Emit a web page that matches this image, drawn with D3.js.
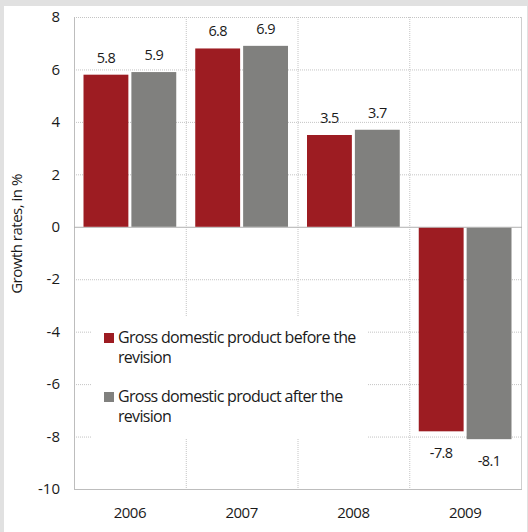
<!DOCTYPE html>
<html>
<head>
<meta charset="utf-8">
<script src="https://cdn.jsdelivr.net/npm/d3@7"></script>
<style>
  body { margin: 0; background: #e1e1e1; }
  text { font-family: "Open Sans", "Lato", sans-serif; fill: #1a1a1a; }
</style>
</head>
<body>
<div id="chart"></div>
<script>
var years = ["2006", "2007", "2008", "2009"];
var seriesNames = ["Gross domestic product before the revision", "Gross domestic product after the revision"];
var before = [5.8, 6.8, 3.5, -7.8];
var after = [5.9, 6.9, 3.7, -8.1];
var yTicks = [8, 6, 4, 2, 0, -2, -4, -6, -8, -10];
var colors = ["#9d1c22", "#80807e"];

var W = 528, H = 532;
var plot = { left: 74, right: 521, top: 17, bottom: 489 };

var svg = d3.select("#chart").append("svg")
    .attr("width", W)
    .attr("height", H);

svg.append("rect").attr("width", W).attr("height", H).attr("fill", "#e1e1e1");
svg.append("rect").attr("x", 4).attr("y", 6).attr("width", 523).attr("height", H - 6).attr("fill", "#fff");

var y = d3.scaleLinear().domain([-10, 8]).range([plot.bottom, plot.top]);
var x0 = d3.scaleBand().domain(years).range([plot.left, plot.right]);
var x1 = d3.scaleBand().domain([0, 1])
    .range([9.5, x0.bandwidth() - 9.5])
    .paddingInner(0.063);

// horizontal gridlines
svg.append("g").selectAll("line")
    .data(yTicks.filter(function (d) { return d !== 0 && d !== -10; }))
  .enter().append("line")
    .attr("x1", plot.left).attr("x2", plot.right)
    .attr("y1", function (d) { return y(d) + 0.5; })
    .attr("y2", function (d) { return y(d) + 0.5; })
    .attr("stroke", "#c4c4c4")
    .attr("stroke-dasharray", "1,1");

// vertical separators
svg.append("g").selectAll("line")
    .data(years.slice(1))
  .enter().append("line")
    .attr("x1", function (d) { return x0(d) + 0.5; })
    .attr("x2", function (d) { return x0(d) + 0.5; })
    .attr("y1", plot.top).attr("y2", plot.bottom)
    .attr("stroke", "#c4c4c4")
    .attr("stroke-dasharray", "1,1");

// legend box covers the grid
svg.append("rect")
    .attr("x", 92).attr("y", 317).attr("width", 276).attr("height", 121)
    .attr("fill", "#fff");

// frame
svg.append("line").attr("x1", plot.left + 0.5).attr("x2", plot.left + 0.5)
    .attr("y1", plot.top).attr("y2", plot.bottom).attr("stroke", "#bdbdbd");
svg.append("line").attr("x1", plot.right + 0.5).attr("x2", plot.right + 0.5)
    .attr("y1", plot.top).attr("y2", plot.bottom).attr("stroke", "#cfcfcf");
svg.append("line").attr("x1", plot.left).attr("x2", plot.right + 1)
    .attr("y1", plot.bottom + 0.5).attr("y2", plot.bottom + 0.5).attr("stroke", "#bdbdbd");
svg.append("line").attr("x1", plot.left).attr("x2", plot.right + 1)
    .attr("y1", y(0) + 0.5).attr("y2", y(0) + 0.5).attr("stroke", "#b0b0b0");

// bars
var groups = svg.append("g").selectAll("g")
    .data(years)
  .enter().append("g")
    .attr("transform", function (d) { return "translate(" + x0(d) + ",0)"; });

groups.selectAll("rect")
    .data(function (d, i) { return [before[i], after[i]]; })
  .enter().append("rect")
    .attr("x", function (d, j) { return x1(j); })
    .attr("width", x1.bandwidth())
    .attr("y", function (d) { return d > 0 ? y(d) : y(0) + 1; })
    .attr("height", function (d) { return Math.abs(y(d) - y(0)) - (d > 0 ? 0 : 1); })
    .attr("fill", function (d, j) { return colors[j]; });

groups.selectAll("text")
    .data(function (d, i) { return [before[i], after[i]]; })
  .enter().append("text")
    .attr("x", function (d, j) { return x1(j) + x1.bandwidth() / 2; })
    .attr("y", function (d) { return d > 0 ? y(d) - 12 : y(d) + 27; })
    .attr("text-anchor", "middle")
    .style("font-size", "14.5px")
    .style("letter-spacing", "-0.6px")
    .text(function (d) { return d.toFixed(1); });

// y tick labels
svg.append("g").selectAll("text")
    .data(yTicks)
  .enter().append("text")
    .attr("x", 60)
    .attr("y", function (d) { return y(d); })
    .attr("dy", "0.35em")
    .attr("text-anchor", "end")
    .style("font-size", "15px")
    .text(function (d) { return d; });

// x labels
svg.append("g").selectAll("text")
    .data(years)
  .enter().append("text")
    .attr("x", function (d) { return x0(d) + x0.bandwidth() / 2; })
    .attr("y", 518)
    .attr("text-anchor", "middle")
    .style("font-size", "15px")
    .style("letter-spacing", "-0.5px")
    .text(function (d) { return d; });

// y title
svg.append("text")
    .attr("transform", "translate(22,234) rotate(-90)")
    .attr("text-anchor", "middle")
    .style("font-size", "15px")
    .style("letter-spacing", "-0.5px")
    .text("Growth rates, in %");

// legend
var legend = svg.append("g").selectAll("g")
    .data(seriesNames)
  .enter().append("g")
    .attr("transform", function (d, i) { return "translate(104," + (333 + i * 59) + ")"; });

legend.append("rect")
    .attr("width", 10).attr("height", 10)
    .attr("fill", function (d, i) { return colors[i]; });

legend.append("text")
    .attr("x", 14).attr("y", 10)
    .style("font-size", "16px")
    .style("letter-spacing", "-0.7px")
    .each(function (d) {
      var words = d.split(" ");
      d3.select(this).append("tspan").text(words.slice(0, -1).join(" "));
      d3.select(this).append("tspan").attr("x", 14).attr("dy", 20).text(words[words.length - 1]);
    });
</script>
</body>
</html>
